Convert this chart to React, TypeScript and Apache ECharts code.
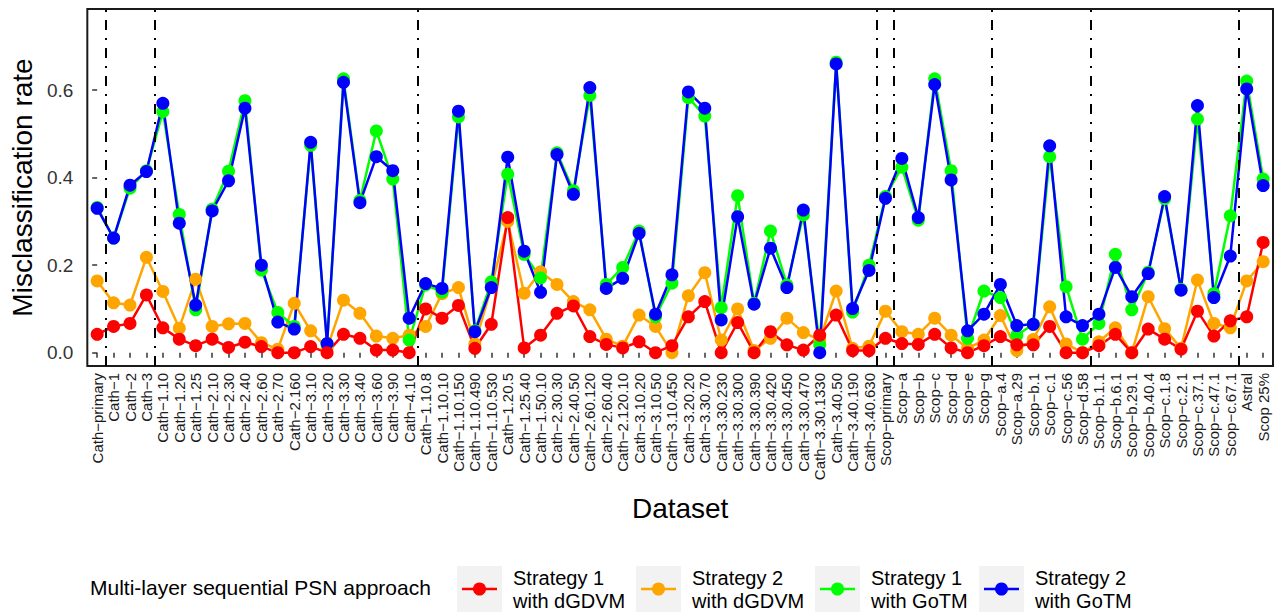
import React, { useEffect, useRef } from "react";
import * as echarts from "echarts";

const categories = [
  "Cath−primary", "Cath−1", "Cath−2", "Cath−3",
  "Cath−1.10", "Cath−1.20", "Cath−1.25", "Cath−2.10", "Cath−2.30", "Cath−2.40", "Cath−2.60", "Cath−2.70",
  "Cath−2.160", "Cath−3.10", "Cath−3.20", "Cath−3.30", "Cath−3.40", "Cath−3.60", "Cath−3.90", "Cath−4.10",
  "Cath−1.10.8", "Cath−1.10.10", "Cath−1.10.150", "Cath−1.10.490", "Cath−1.10.530", "Cath−1.20.5",
  "Cath−1.25.40", "Cath−1.50.10", "Cath−2.30.30", "Cath−2.40.50", "Cath−2.60.120", "Cath−2.60.40",
  "Cath−2.120.10", "Cath−3.10.20", "Cath−3.10.50", "Cath−3.10.450", "Cath−3.20.20", "Cath−3.30.70",
  "Cath−3.30.230", "Cath−3.30.300", "Cath−3.30.390", "Cath−3.30.420", "Cath−3.30.450", "Cath−3.30.470",
  "Cath−3.30.1330", "Cath−3.40.50", "Cath−3.40.190", "Cath−3.40.630",
  "Scop−primary", "Scop−a", "Scop−b", "Scop−c", "Scop−d", "Scop−e", "Scop−g",
  "Scop−a.4", "Scop−a.29", "Scop−b.1", "Scop−c.1", "Scop−c.56", "Scop−d.58",
  "Scop−b.1.1", "Scop−b.6.1", "Scop−b.29.1", "Scop−b.40.4", "Scop−c.1.8", "Scop−c.2.1",
  "Scop−c.37.1", "Scop−c.47.1", "Scop−c.67.1", "Astral", "Scop 25%",
];

// Strategy 1 with dGDVM (red)
const s1dgdvm = [
  0.042, 0.060, 0.067, 0.132,
  0.057, 0.031, 0.016, 0.031, 0.012, 0.024, 0.014, 0.000,
  0.000, 0.014, 0.000, 0.042, 0.033, 0.006, 0.006, 0.000,
  0.100, 0.079, 0.108, 0.010, 0.065, 0.309,
  0.011, 0.040, 0.090, 0.107, 0.037, 0.019,
  0.011, 0.025, 0.000, 0.016, 0.082, 0.117,
  0.000, 0.069, 0.000, 0.048, 0.018, 0.006,
  0.040, 0.086, 0.005, 0.005,
  0.033, 0.021, 0.019, 0.042, 0.011, 0.000, 0.016,
  0.037, 0.018, 0.018, 0.060, 0.000, 0.000,
  0.016, 0.042, 0.000, 0.054, 0.031, 0.008,
  0.095, 0.038, 0.073, 0.082, 0.252,
];

// Strategy 2 with dGDVM (orange)
const s2dgdvm = [
  0.164, 0.114, 0.109, 0.218,
  0.140, 0.056, 0.168, 0.060, 0.066, 0.067, 0.023, 0.008,
  0.113, 0.050, 0.010, 0.120, 0.090, 0.038, 0.033, 0.040,
  0.060, 0.135, 0.149, 0.020, 0.150, 0.300,
  0.136, 0.185, 0.156, 0.117, 0.098, 0.031,
  0.015, 0.086, 0.060, 0.000, 0.130, 0.183,
  0.029, 0.100, 0.005, 0.033, 0.079, 0.046,
  0.030, 0.141, 0.010, 0.015,
  0.095, 0.048, 0.042, 0.079, 0.040, 0.010, 0.029,
  0.085, 0.005, 0.030, 0.105, 0.020, 0.000,
  0.025, 0.057, 0.000, 0.128, 0.055, 0.010,
  0.166, 0.067, 0.057, 0.164, 0.208,
];

// Strategy 1 with GoTM (green)
const s1gotm = [
  0.332, 0.262, 0.376, 0.416,
  0.551, 0.316, 0.098, 0.328, 0.415, 0.576, 0.189, 0.092,
  0.060, 0.474, 0.020, 0.626, 0.348, 0.507, 0.397, 0.029,
  0.155, 0.139, 0.539, 0.050, 0.162, 0.408,
  0.225, 0.171, 0.457, 0.370, 0.588, 0.156,
  0.195, 0.278, 0.082, 0.159, 0.583, 0.541,
  0.103, 0.359, 0.113, 0.278, 0.155, 0.315,
  0.018, 0.664, 0.093, 0.200,
  0.357, 0.424, 0.303, 0.626, 0.416, 0.033, 0.141,
  0.126, 0.040, 0.065, 0.448, 0.151, 0.031,
  0.067, 0.225, 0.098, 0.184, 0.352, 0.145,
  0.534, 0.135, 0.313, 0.621, 0.397,
];

// Strategy 2 with GoTM (blue)
const s2gotm = [
  0.330, 0.262, 0.383, 0.414,
  0.570, 0.296, 0.109, 0.324, 0.393, 0.559, 0.200, 0.070,
  0.054, 0.481, 0.021, 0.618, 0.343, 0.448, 0.416, 0.079,
  0.158, 0.147, 0.552, 0.048, 0.149, 0.447,
  0.232, 0.138, 0.453, 0.362, 0.606, 0.147,
  0.170, 0.273, 0.088, 0.178, 0.596, 0.559,
  0.075, 0.311, 0.111, 0.239, 0.149, 0.326,
  0.000, 0.660, 0.101, 0.188,
  0.353, 0.444, 0.309, 0.613, 0.395, 0.050, 0.088,
  0.156, 0.062, 0.065, 0.473, 0.082, 0.062,
  0.088, 0.195, 0.128, 0.181, 0.357, 0.143,
  0.565, 0.126, 0.221, 0.603, 0.382,
];

const yTicks = [0, 0.2, 0.4, 0.6];
const separators = [0.5, 3.5, 19.5, 47.5, 48.5, 54.5, 60.5, 69.5];

const legendTitle = "Multi-layer sequential PSN approach";
const legendItems = [
  { label: "Strategy 1\nwith dGDVM", color: "#FF0000" },
  { label: "Strategy 2\nwith dGDVM", color: "#FFA500" },
  { label: "Strategy 1\nwith GoTM", color: "#00FF00" },
  { label: "Strategy 2\nwith GoTM", color: "#0000FF" },
];

const FONT = "Liberation Sans, Arial, Helvetica, sans-serif";

export default function App() {
  const ref = useRef<HTMLDivElement>(null);

  useEffect(() => {
    if (!ref.current) return;
    const chart = echarts.init(ref.current, undefined, { renderer: "svg" });
    const idx = categories.map((_, i) => i);

    const mk = (name: string, color: string, vals: number[], extra: any = {}) => ({
      name,
      type: "line",
      data: vals.map((v, i) => [i, v]),
      symbol: "circle",
      symbolSize: 13,
      showSymbol: true,
      lineStyle: { color, width: 2.5 },
      itemStyle: { color },
      emphasis: { disabled: true },
      silent: true,
      ...extra,
    });

    // legend drawn as graphic
    const keyX = [457, 636, 815, 979];
    const keyTop = 566;
    const keyW = 45;
    const keyH = 46;
    const cy = keyTop + keyH / 2;
    const graphics: any[] = [
      {
        type: "text",
        left: 90,
        top: cy - 12,
        style: { text: legendTitle, fontSize: 21, fontFamily: FONT, fill: "#000" },
      },
    ];
    legendItems.forEach((it, k) => {
      const x = keyX[k];
      graphics.push({
        type: "rect",
        shape: { x, y: keyTop, width: keyW, height: keyH },
        style: { fill: "#F2F2F2" },
      });
      graphics.push({
        type: "line",
        shape: { x1: x + 5, y1: cy, x2: x + keyW - 5, y2: cy },
        style: { stroke: it.color, lineWidth: 2.5 },
      });
      graphics.push({
        type: "circle",
        shape: { cx: x + keyW / 2, cy, r: 6.5 },
        style: { fill: it.color },
      });
      graphics.push({
        type: "text",
        x: x + 56,
        y: cy,
        style: {
          text: it.label,
          fontSize: 20,
          lineHeight: 23,
          fontFamily: FONT,
          fill: "#000",
          verticalAlign: "middle",
          align: "left",
        },
      });
    });

    chart.setOption({
      animation: false,
      backgroundColor: "#fff",
      textStyle: { fontFamily: FONT },
      grid: {
        left: 87,
        right: 9,
        top: 9,
        bottom: 249,
        show: true,
        borderColor: "#1a1a1a",
        borderWidth: 2,
        backgroundColor: "#fff",
        containLabel: false,
      },
      xAxis: {
        type: "value",
        min: -0.6,
        max: 71.6,
        splitLine: { show: false },
        axisLine: { show: false },
        axisTick: {
          show: true,
          customValues: idx,
          length: 5,
          lineStyle: { color: "#333", width: 1.5 },
        },
        axisLabel: {
          customValues: idx,
          rotate: 90,
          formatter: (v: number) => categories[Math.round(v)] ?? "",
          fontSize: 15,
          color: "#1a1a1a",
          margin: 7,
          fontFamily: FONT,
        },
        name: "Dataset",
        nameLocation: "middle",
        nameGap: 128,
        nameTextStyle: { fontSize: 28, color: "#000", fontFamily: FONT },
      },
      yAxis: {
        type: "value",
        min: -0.0304,
        max: 0.7856,
        splitLine: { show: false },
        axisLine: { show: false },
        axisTick: {
          show: true,
          customValues: yTicks,
          length: 5,
          lineStyle: { color: "#333", width: 1.5 },
        },
        axisLabel: {
          customValues: yTicks,
          formatter: (v: number) => v.toFixed(1),
          fontSize: 19,
          color: "#333",
          margin: 14,
          fontFamily: FONT,
        },
        name: "Misclassification rate",
        nameLocation: "middle",
        nameGap: 46,
        nameTextStyle: { fontSize: 28, color: "#000", fontFamily: FONT },
      },
      series: [
        mk("Strategy 2 with dGDVM", "#FFA500", s2dgdvm),
        mk("Strategy 1 with GoTM", "#00FF00", s1gotm),
        mk("Strategy 2 with GoTM", "#0000FF", s2gotm),
        mk("Strategy 1 with dGDVM", "#FF0000", s1dgdvm, {
          markLine: {
            silent: true,
            symbol: ["none", "none"],
            label: { show: false },
            emphasis: { disabled: true },
            lineStyle: { color: "#000", width: 2, type: [10, 8, 2, 8] },
            data: separators.map((x) => ({ xAxis: x })),
          },
        }),
      ],
      graphic: graphics,
    });

    return () => chart.dispose();
  }, []);

  return (
    <div
      ref={ref}
      style={{ position: "absolute", left: 0, top: 0, width: 1282, height: 615 }}
    />
  );
}
